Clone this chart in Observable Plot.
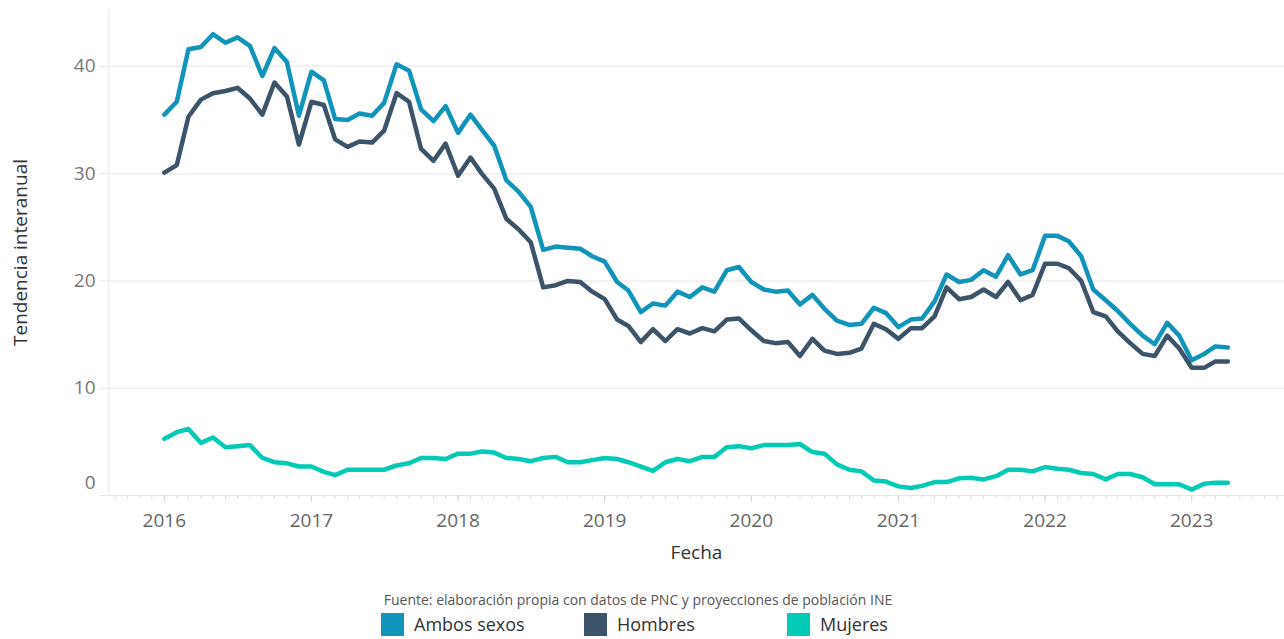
<!DOCTYPE html>
<html><head><meta charset="utf-8">
<script src="https://cdn.jsdelivr.net/npm/d3@7"></script>
<script src="https://cdn.jsdelivr.net/npm/@observablehq/plot@0.6"></script>
<style>
body{margin:0;background:#fff;font-family:"Open Sans",sans-serif;}
#wrap{position:relative;width:1284px;height:639px;overflow:hidden;}
#caption{position:absolute;top:590px;left:0;width:1276px;text-align:center;font-size:14px;color:#555;}
#legend{position:absolute;top:613px;left:381px;display:flex;}
.item{width:203px;display:flex;align-items:center;font-size:18px;color:#333;line-height:23px;}
.sw{width:23px;height:23px;margin-right:10px;flex:none;}
</style></head><body>
<div id="wrap"><div id="chart"></div><div id="caption"></div><div id="legend"></div></div>
<script>
const series = ["Ambos sexos", "Hombres", "Mujeres"];
const colors = ["#1094b9", "#3b5469", "#03cab5"];
const yearTicks = [2016, 2017, 2018, 2019, 2020, 2021, 2022, 2023];
const yTicks = [0, 10, 20, 30, 40];
const firstYear = 2016;

const ambos = [
  35.5, 36.7, 41.6, 41.8, 43.0, 42.2, 42.7, 41.9, 39.1, 41.7, 40.4, 35.4,
  39.5, 38.7, 35.1, 35.0, 35.6, 35.4, 36.6, 40.2, 39.6, 36.0, 34.9, 36.3,
  33.8, 35.5, 34.1, 32.6, 29.4, 28.3, 26.9, 22.9, 23.2, 23.1, 23.0, 22.3,
  21.8, 19.9, 19.1, 17.1, 17.9, 17.7, 19.0, 18.5, 19.4, 19.0, 21.0, 21.3,
  19.9, 19.2, 19.0, 19.1, 17.8, 18.7, 17.4, 16.3, 15.9, 16.0, 17.5, 17.0,
  15.7, 16.4, 16.5, 18.1, 20.6, 19.9, 20.1, 21.0, 20.4, 22.4, 20.6, 21.0,
  24.2, 24.2, 23.7, 22.3, 19.2, 18.2, 17.2, 16.0, 14.9, 14.1, 16.1, 14.9,
  12.6, 13.2, 13.9, 13.8
];
const hombres = [
  30.1, 30.8, 35.3, 36.9, 37.5, 37.7, 38.0, 37.0, 35.5, 38.5, 37.2, 32.7,
  36.7, 36.4, 33.2, 32.5, 33.0, 32.9, 34.0, 37.5, 36.7, 32.3, 31.2, 32.8,
  29.8, 31.5, 30.0, 28.6, 25.8, 24.8, 23.6, 19.4, 19.6, 20.0, 19.9, 19.0,
  18.3, 16.4, 15.8, 14.3, 15.5, 14.4, 15.5, 15.1, 15.6, 15.3, 16.4, 16.5,
  15.4, 14.4, 14.2, 14.3, 13.0, 14.6, 13.5, 13.2, 13.3, 13.7, 16.0, 15.5,
  14.6, 15.6, 15.6, 16.7, 19.4, 18.3, 18.5, 19.2, 18.5, 19.9, 18.2, 18.7,
  21.6, 21.6, 21.2, 20.0, 17.1, 16.7, 15.3, 14.2, 13.2, 13.0, 14.9, 13.7,
  11.9, 11.9, 12.5, 12.5
];
const mujeres = [
  5.3, 5.9, 6.2, 4.9, 5.4, 4.5, 4.6, 4.7, 3.5, 3.1, 3.0, 2.7,
  2.7, 2.2, 1.9, 2.4, 2.4, 2.4, 2.4, 2.8, 3.0, 3.5, 3.5, 3.4,
  3.9, 3.9, 4.1, 4.0, 3.5, 3.4, 3.2, 3.5, 3.6, 3.1, 3.1, 3.3,
  3.5, 3.4, 3.1, 2.7, 2.3, 3.1, 3.4, 3.2, 3.6, 3.6, 4.5, 4.6,
  4.4, 4.7, 4.7, 4.7, 4.8, 4.05, 3.9, 2.9, 2.4, 2.25, 1.4, 1.3,
  0.85, 0.7, 0.9, 1.25, 1.25, 1.6, 1.65, 1.5, 1.8, 2.4, 2.4, 2.25,
  2.65, 2.5, 2.4, 2.1, 2.0, 1.5, 2.0, 2.0, 1.7, 1.05, 1.05, 1.05,
  0.55, 1.1, 1.2, 1.2
];

const valuesBySeries = [ambos, hombres, mujeres];
const rows = [];
valuesBySeries.forEach((vals, s) => vals.forEach((v, i) => {
  rows.push({series: series[s], date: new Date(Date.UTC(firstYear, i, 1)), value: v});
}));

const xDomain = [new Date(Date.UTC(2015, 7, 15)), new Date(Date.UTC(2023, 7, 20))];
const yearDates = yearTicks.map(y => new Date(Date.UTC(y, 0, 1)));
const monthDates = d3.utcMonth.range(new Date(Date.UTC(2015, 8, 1)), xDomain[1]);

const chart = Plot.plot({
  width: 1284, height: 580,
  marginLeft: 108, marginRight: 0, marginTop: 9, marginBottom: 85,
  style: {fontFamily: '"Open Sans", sans-serif', fontSize: "19px", color: "#666", background: "#fff"},
  x: {type: "utc", domain: xDomain},
  y: {domain: [0, 45.3]},
  color: {domain: series, range: colors},
  marks: [
    Plot.gridY(yTicks.filter(d => d > 0), {stroke: "#eeeeee", strokeOpacity: 1, strokeWidth: 1.5}),
    Plot.ruleX([xDomain[0]], {stroke: "#eeeeee", strokeWidth: 1.5}),
    Plot.ruleY([0], {stroke: "#e6e6e6", strokeWidth: 1.2}),
    Plot.axisX(monthDates, {tickSize: 4, stroke: "#dcdcdc", text: null, label: null}),
    Plot.axisX(yearDates, {tickSize: 7, tickPadding: 11, stroke: "#d4d4d4", fill: "#666", tickFormat: "%Y", label: null, fontSize: 19}),
    Plot.axisY(yTicks, {tickSize: 8, tickPadding: 5, stroke: "#e4e4e4", fill: "#777", tickFormat: d => d === 0 ? "" : d, label: null, fontSize: 19}),
    Plot.axisY([0], {tickSize: 0, tickPadding: 13, dy: -13, fill: "#777", label: null, fontSize: 19}),
    Plot.text(["Fecha"], {frameAnchor: "bottom", dy: 63, fill: "#333", fontSize: 19}),
    Plot.text(["Tendencia interanual"], {frameAnchor: "left", textAnchor: "middle", rotate: -90, dx: -88, fill: "#333", fontSize: 19}),
    Plot.line(rows, {x: "date", y: "value", z: "series", stroke: "series", strokeWidth: 4.5, strokeLinejoin: "round", strokeLinecap: "round"})
  ]
});
document.getElementById("chart").appendChild(chart);

document.getElementById("caption").textContent = "Fuente: elaboración propia con datos de PNC y proyecciones de población INE";
const legend = document.getElementById("legend");
series.forEach((s, i) => {
  const it = document.createElement("div");
  it.className = "item";
  const sw = document.createElement("span");
  sw.className = "sw";
  sw.style.background = colors[i];
  const lb = document.createElement("span");
  lb.textContent = s;
  it.appendChild(sw); it.appendChild(lb);
  legend.appendChild(it);
});
</script>
</body></html>
